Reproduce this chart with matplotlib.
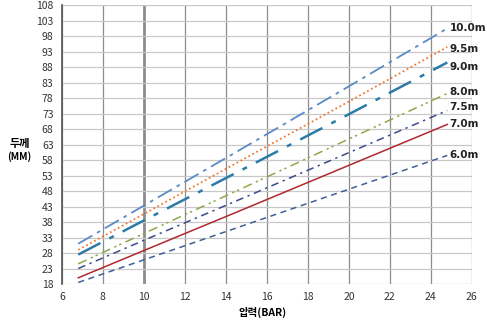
import numpy as np
import matplotlib.pyplot as plt

plt.rcParams['font.family'] = ['Noto Sans CJK KR', 'DejaVu Sans']

pressure = [6.8, 10, 15, 20, 24.8]
labels = ["10.0m", "9.5m", "9.0m", "8.0m", "7.5m", "7.0m", "6.0m"]
t_100 = [31.0, 43.3, 62.5, 81.8, 100.5]
t_95 = [29.0, 40.6, 58.8, 76.9, 94.5]
t_90 = [27.5, 38.5, 55.6, 72.8, 89.5]
t_80 = [24.5, 34.3, 49.5, 64.8, 79.5]
t_75 = [23.0, 32.1, 46.2, 60.4, 74.0]
t_70 = [20.0, 28.8, 42.5, 56.3, 69.5]
t_60 = [18.5, 25.8, 37.2, 48.6, 59.5]
series = [t_100, t_95, t_90, t_80, t_75, t_70, t_60]

colors = ["#5B8BC6", "#F07A30", "#2B7BA8", "#8DA84A", "#3D4A8C", "#B0282E", "#3F5F95"]
styles = [(0, (9, 3, 2, 3)), (0, (1, 1.5)), (0, (10, 4, 2, 4)), (0, (6, 3, 1.5, 2, 1.5, 3)),
          (0, (5, 3, 1.5, 3)), '-', (0, (4, 3))]
widths = [1.3, 1.3, 1.8, 1.1, 1.1, 1.1, 1.1]
label_dy = [0.0, -0.5, -1.5, 0.5, 1.0, 0.0, 0.0]

fig = plt.figure(figsize=(4.87, 3.22), dpi=100)
ax = fig.add_axes([0.127, 0.118, 0.842, 0.866])

for xv in range(6, 27, 2):
    lw = 2.0 if xv == 10 else 0.9
    ax.axvline(xv, color="#8C8C8C", lw=lw, zorder=0)
for yv in range(18, 109, 5):
    ax.axhline(yv, color="#C8C8C8", lw=0.9, zorder=0)

for vals, lab, c, ls, lw, dy in zip(series, labels, colors, styles, widths, label_dy):
    ax.plot(pressure, vals, color=c, linestyle=ls, lw=lw)
    ax.text(24.9, vals[-1] + dy, lab, fontsize=7.5, fontweight='bold',
            family='DejaVu Sans', va='center', ha='left', color="#222222")

ax.set_xlim(6, 26)
ax.set_ylim(18, 108)
ax.set_xticks(range(6, 27, 2))
ax.set_yticks(range(18, 109, 5))
ax.tick_params(length=0, labelsize=7.5, pad=6, colors="#333333")
for s in ["top", "right", "bottom"]:
    ax.spines[s].set_visible(False)
ax.spines["left"].set_color("#555555")
ax.spines["left"].set_linewidth(1.2)

fig.text(0.54, 0.03, "압력(BAR)", fontsize=7.5, fontweight='bold', ha='center', va='center')
fig.text(0.04, 0.555, "두께", fontsize=8, fontweight='bold', ha='center', va='center')
fig.text(0.04, 0.515, "(MM)", fontsize=7, fontweight='bold', ha='center', va='center')

fig.savefig("out.png", dpi=100)
